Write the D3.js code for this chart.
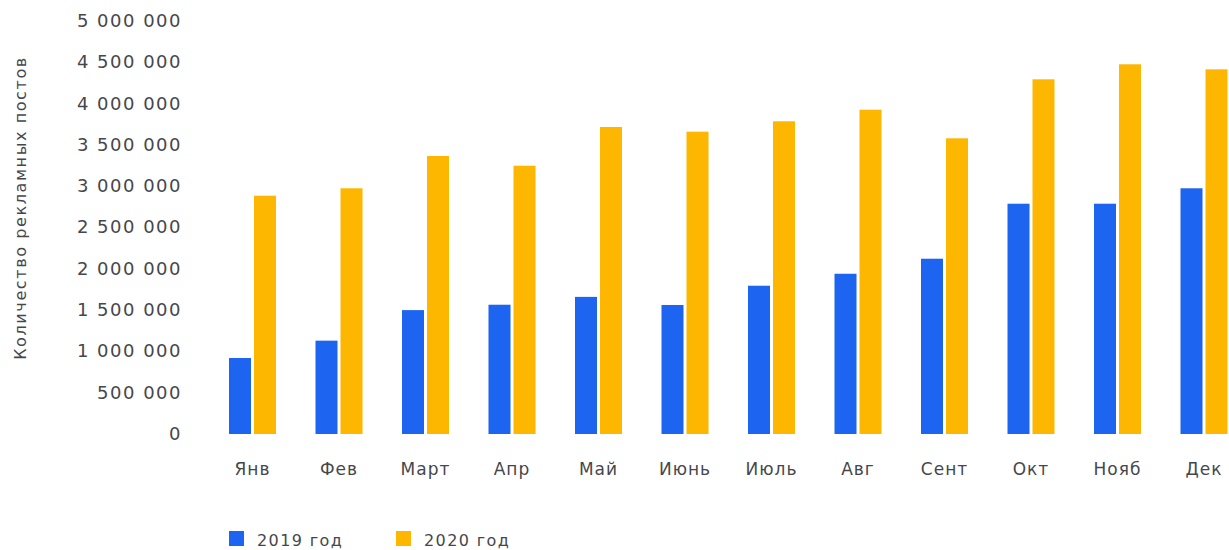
<!DOCTYPE html>
<html>
<head>
<meta charset="utf-8">
<script src="https://cdn.jsdelivr.net/npm/d3@7"></script>
<style>
  body { margin: 0; background: #fff; }
  svg text { font-family: "DejaVu Sans", sans-serif; fill: #46474c; }
</style>
</head>
<body>
<div id="chart"></div>
<script>
// Monthly number of ad posts, 2019 vs 2020
const months = ["Янв", "Фев", "Март", "Апр", "Май", "Июнь", "Июль", "Авг", "Сент", "Окт", "Нояб", "Дек"];
const seriesNames = ["2019 год", "2020 год"];
const values2019 = [920000, 1130000, 1500000, 1565000, 1660000, 1562000, 1795000, 1940000, 2122000, 2788000, 2788000, 2975000];
const values2020 = [2885000, 2975000, 3366000, 3248000, 3717000, 3660000, 3786000, 3926000, 3580000, 4294000, 4476000, 4415000];
const yTicks = [0, 500000, 1000000, 1500000, 2000000, 2500000, 3000000, 3500000, 4000000, 4500000, 5000000];
const colors = ["#1d65f1", "#feb701"];

const width = 1229, height = 550;

const svg = d3.select("#chart")
  .append("svg")
  .attr("width", width)
  .attr("height", height);

// Scales
const y = d3.scaleLinear()
  .domain([0, 5000000])
  .range([434, 21]);

const x0 = d3.scaleBand()
  .domain(months)
  .range([229, 1227.5])
  .paddingInner(0.4566)
  .paddingOuter(0);

const x1 = d3.scaleBand()
  .domain(seriesNames)
  .range([0, x0.bandwidth()])
  .paddingInner(0.12);

// Number format with space as thousands separator
const locale = d3.formatLocale({ decimal: ",", thousands: " ", grouping: [3], currency: ["", ""] });
const fmt = locale.format(",");

// Y axis (labels only)
const yAxis = svg.append("g")
  .attr("transform", "translate(190,0)")
  .call(d3.axisLeft(y).tickValues(yTicks).tickFormat(fmt).tickSize(0).tickPadding(8));
yAxis.select(".domain").remove();
yAxis.selectAll("text")
  .style("font-size", "18px")
  .style("letter-spacing", "1.5px")
  .attr("dy", "0.3em");

// X axis (month labels)
const xAxis = svg.append("g")
  .attr("transform", "translate(0,434)")
  .call(d3.axisBottom(x0).tickSize(0).tickPadding(29));
xAxis.select(".domain").remove();
xAxis.selectAll("text")
  .style("font-size", "17px")
  .style("letter-spacing", "1px");

// Y axis title
svg.append("text")
  .attr("transform", "translate(26,208) rotate(-90)")
  .attr("text-anchor", "middle")
  .style("font-size", "16px")
  .style("letter-spacing", "1.6px")
  .text("Количество рекламных постов");

// Bars
const rows = months.map((m, i) => ({ month: m, values: [values2019[i], values2020[i]] }));

const groups = svg.append("g")
  .selectAll("g")
  .data(rows)
  .enter()
  .append("g")
  .attr("transform", d => `translate(${x0(d.month)},0)`);

groups.selectAll("rect")
  .data(d => d.values.map((v, j) => ({ key: seriesNames[j], value: v, j })))
  .enter()
  .append("rect")
  .attr("x", d => x1(d.key))
  .attr("y", d => y(d.value))
  .attr("width", x1.bandwidth())
  .attr("height", d => y(0) - y(d.value))
  .attr("fill", d => colors[d.j]);

// Legend
const legendX = [229, 396];
const legend = svg.append("g")
  .selectAll("g")
  .data(seriesNames)
  .enter()
  .append("g")
  .attr("transform", (d, i) => `translate(${legendX[i]},531)`);

legend.append("rect")
  .attr("width", 15)
  .attr("height", 15)
  .attr("fill", (d, i) => colors[i]);

legend.append("text")
  .attr("x", 28)
  .attr("y", 15)
  .style("font-size", "16px")
  .style("letter-spacing", "1.4px")
  .text(d => d);
</script>
</body>
</html>
